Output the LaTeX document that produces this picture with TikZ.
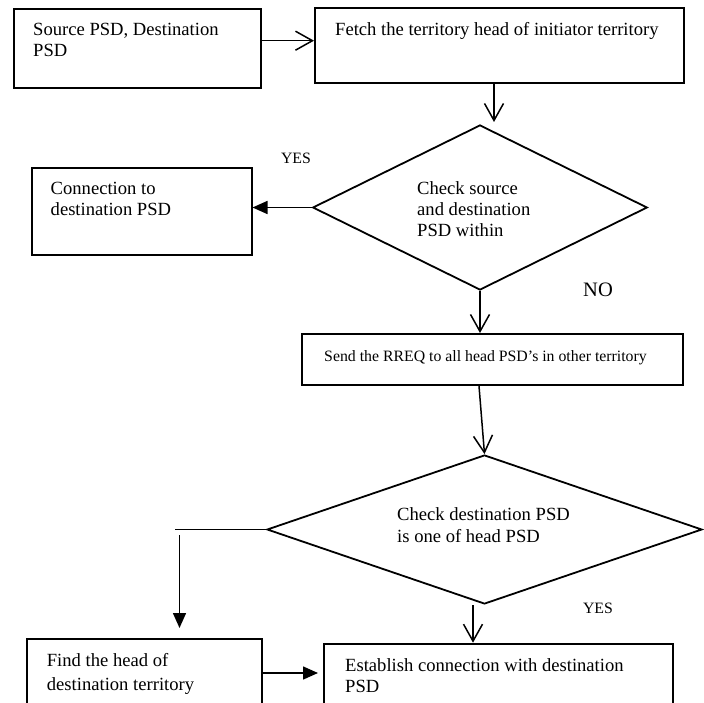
\documentclass[tikz,border=0pt]{standalone}
\usepackage{fontspec}
\setmainfont{Liberation Serif}
\usetikzlibrary{arrows.meta,shapes.geometric,calc}
\begin{document}
\begin{tikzpicture}[x=1pt,y=-1pt,
  box/.style={draw, line width=2pt, inner sep=0pt, anchor=north west},
  dia/.style={draw, diamond, line width=1.8pt, inner sep=0pt},
  txt/.style={inner sep=0pt, anchor=base west, align=left, font=\fontsize{18.6}{21}\selectfont},
  small/.style={inner sep=0pt, font=\fontsize{15.8}{18}\selectfont},
  big/.style={inner sep=0pt, font=\fontsize{20.5}{24}\selectfont},
  openarrow/.style={line width=1.5pt, -{Straight Barb[length=17pt,width=19pt,line width=1.5pt]}},
  filledarrow/.style={line width=1.5pt, -{Triangle[length=15pt,width=13pt]}},
  plain/.style={line width=1.5pt}
]
\useasboundingbox (0,0) rectangle (704,703);
% boxes (multi-line text nodes are placed by the baseline of their last line)
\node[box, minimum width=247.3pt, minimum height=79pt] (b1) at (12.7,8.3) {};
\node[txt] (t1) at (33,57) {Source PSD, Destination\\PSD};
\node[box, minimum width=369pt, minimum height=74.4pt] (b2) at (314,7.3) {};
\node[txt] (t2) at (335,36) {Fetch the territory head of initiator territory};
\coordinate (r1) at (287,40.7);
\draw[openarrow] (b1.east |- r1) -- (b2.west |- r1);
% diamond 1
\node[dia, minimum width=334.6pt, minimum height=165pt] (d1) at (480,207.5) {};
\node[txt] (t3) at (417,237) {Check source\\and destination\\PSD within};
\coordinate (p2) at (494,122);
\draw[openarrow] (b2.south -| p2) -- (p2);
% box 3
\node[box, minimum width=219.8pt, minimum height=87.3pt] (b3) at (30.7,166.7) {};
\node[txt] (t4) at (50.5,216) {Connection to\\destination PSD};
\draw[filledarrow] (d1.west) -- (d1.west -| b3.east);
\node[small] (yes1) at (296,158) {YES};
\node[big] (no) at (598,290) {NO};
% box 4
\node[box, minimum width=381pt, minimum height=51pt] (b4) at (301,333) {};
\node[small, anchor=base] (t5) at (485.5,361) {Send the RREQ to all head PSD’s in other territory};
\draw[openarrow] (d1.south) -- (d1.south |- b4.north);
% diamond 2
\node[dia, minimum width=435pt, minimum height=149pt] (d2) at (484.5,529.5) {};
\node[txt, font=\fontsize{18.6}{22}\selectfont] (t6) at (397,542) {Check destination PSD\\is one of head PSD};
\coordinate (q5) at (479,384);
\draw[openarrow] (b4.south -| q5) -- (d2.north);
\coordinate (c1) at (175,529.5);
\draw[plain] (d2.west) -- (c1);
\coordinate (c2) at (179.5,535);
\coordinate (c3) at (179.5,628);
\draw[filledarrow] (c2) -- (c3);
\node[small] (yes2) at (598,608) {YES};
% bottom boxes
\node[box, minimum width=235pt, minimum height=80pt] (b5) at (26,637.7) {};
\node[txt, font=\fontsize{18.6}{24}\selectfont] (t7) at (46.7,690) {Find the head of\\destination territory};
\node[box, minimum width=349pt, minimum height=62pt] (b6) at (323,642.7) {};
\node[txt, font=\fontsize{18.6}{20.5}\selectfont] (t8) at (345,692) {Establish connection with destination\\PSD};
\coordinate (c4) at (473,605);
\draw[openarrow] (c4) -- (c4 |- b6.north);
\coordinate (c5) at (318,673);
\draw[filledarrow] (b5.east |- c5) -- (c5);
\end{tikzpicture}
\end{document}
